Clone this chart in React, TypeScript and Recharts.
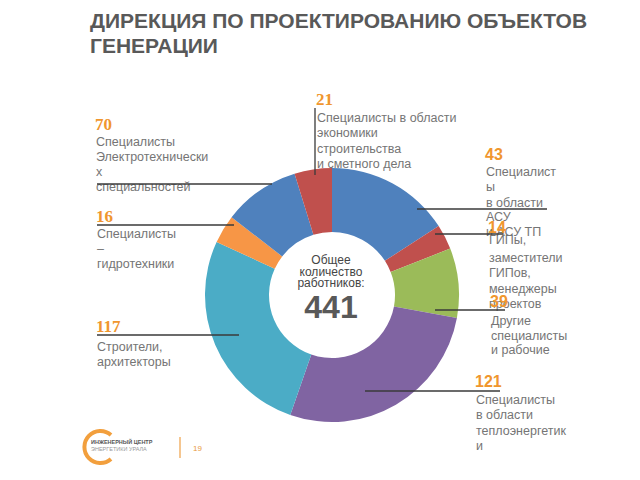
import React from "react"
import { PieChart, Pie, Cell } from "recharts"

// slices clockwise from 12 o'clock, as drawn in the picture
const sliceNames = [
  "АСУ",
  "ГИПы",
  "Другие",
  "Теплоэнергетика",
  "Строители",
  "Гидротехники",
  "Электротехники",
  "Экономика",
]
const sliceValues = [70, 14, 39, 121, 117, 16, 43, 21]
const sliceColors = ["#4F81BD", "#C0504D", "#9BBB59", "#8064A2", "#4BACC6", "#F79646", "#4F81BD", "#C0504D"]

// label captions as printed on the slide
const labelNumbers = ["70", "16", "117", "21", "43", "14", "39", "121"]
const labelLines = [
  ["Специалисты", "Электротехнически", "х", "специальностей"],
  ["Специалисты", "–", "гидротехники"],
  ["Строители,", "архитекторы"],
  ["Специалисты в области", "экономики", "строительства", "и сметного дела"],
  ["Специалист", "ы", "в области", "АСУ", "и АСУ ТП"],
  ["ГИПы,", "заместители", "ГИПов,", "менеджеры", "проектов"],
  ["Другие", "специалисты", "и рабочие"],
  ["Специалисты", "в области", "теплоэнергетик", "и"],
]

const totalLines = ["Общее", "количество", "работников:"]
const total = sliceValues.reduce((s, v) => s + v, 0)

// label placement on the slide
const labelLayout = [
  { x: 95, y: 130, serif: true, lineY: [146, 161, 176, 191], leader: [97, 184, 272, 184] },
  { x: 96, y: 222, serif: true, lineY: [238, 253, 268], leader: [97, 225, 234, 225] },
  { x: 96, y: 332, serif: true, lineY: [351, 366], leader: [97, 335, 239, 335] },
  { x: 316, y: 105, serif: true, lineY: [122, 137, 153, 168], leader: [315, 108, 315, 175] },
  { x: 485, y: 160, serif: false, lineY: [176, 191, 207, 221, 236], leader: [417, 209, 547, 209] },
  { x: 488, y: 233, serif: false, lineY: [244, 262, 277, 293, 308], leader: [435, 234, 503, 234] },
  { x: 490, y: 307, serif: false, lineY: [325, 340, 354], leader: [435, 310, 505, 310] },
  { x: 475, y: 387, serif: false, lineY: [404, 419, 435, 450], leader: [365, 391, 500, 391] },
]

const data = sliceNames.map((name, i) => ({ name, value: sliceValues[i] }))

const sans = "'Liberation Sans', Arial, sans-serif"
const serif = "'Liberation Serif', 'Times New Roman', serif"

export default function App() {
  return (
    <div style={{ position: "absolute", left: 0, top: 0, width: 640, height: 480, background: "#fff" }}>
      <PieChart width={640} height={480}>
        <Pie
          data={data}
          dataKey="value"
          cx={327}
          cy={290}
          innerRadius={63}
          outerRadius={127}
          startAngle={90}
          endAngle={-270}
          stroke="none"
          isAnimationActive={false}
        >
          {data.map((entry, i) => (
            <Cell key={`cell-${i}`} fill={sliceColors[i]} />
          ))}
        </Pie>
      </PieChart>
      <svg width={640} height={480} style={{ position: "absolute", left: 0, top: 0 }}>
        <text x={90} y={28} fontFamily={sans} fontWeight="bold" fontSize={21} fill="#595959">
          ДИРЕКЦИЯ ПО ПРОЕКТИРОВАНИЮ ОБЪЕКТОВ
        </text>
        <text x={90} y={53} fontFamily={sans} fontWeight="bold" fontSize={21} fill="#595959">
          ГЕНЕРАЦИИ
        </text>

        {labelLayout.map((l, i) => (
          <g key={`lbl-${i}`}>
            <text
              x={l.x}
              y={l.y}
              fontFamily={l.serif ? serif : sans}
              fontWeight="bold"
              fontSize={l.serif ? 17 : 16}
              fill="#F0962E"
            >
              {labelNumbers[i]}
            </text>
            {labelLines[i].map((t, j) => (
              <text key={j} x={l.x + 1} y={l.lineY[j]} fontFamily={sans} fontSize={12.5} fill="#757575">
                {t}
              </text>
            ))}
            <line
              x1={l.leader[0]}
              y1={l.leader[1]}
              x2={l.leader[2]}
              y2={l.leader[3]}
              stroke="#3a3a3a"
              strokeWidth={1.3}
            />
          </g>
        ))}

        {totalLines.map((t, i) => (
          <text
            key={t}
            x={331}
            y={264 + i * 11.5}
            textAnchor="middle"
            fontFamily={sans}
            fontSize={12}
            fill="#454545"
          >
            {t}
          </text>
        ))}
        <text x={331} y={318} textAnchor="middle" fontFamily={sans} fontWeight="bold" fontSize={32} fill="#595959">
          {total}
        </text>

        {/* footer logo */}
        <path d="M 111 435 A 16 16 0 1 0 111 459" fill="none" stroke="#F29F3D" strokeWidth={4} />
        <text x={91} y={444} fontFamily={sans} fontWeight="bold" fontSize={5.5} fill="#555">
          ИНЖЕНЕРНЫЙ ЦЕНТР
        </text>
        <text x={91} y={451} fontFamily={sans} fontSize={5.5} fill="#999">
          ЭНЕРГЕТИКИ УРАЛА
        </text>
        <line x1={180} y1={437} x2={180} y2={458} stroke="#F2B36B" strokeWidth={1.5} />
        <text x={193} y={451} fontFamily={sans} fontSize={8} fill="#E89A3C">
          19
        </text>
      </svg>
    </div>
  )
}
